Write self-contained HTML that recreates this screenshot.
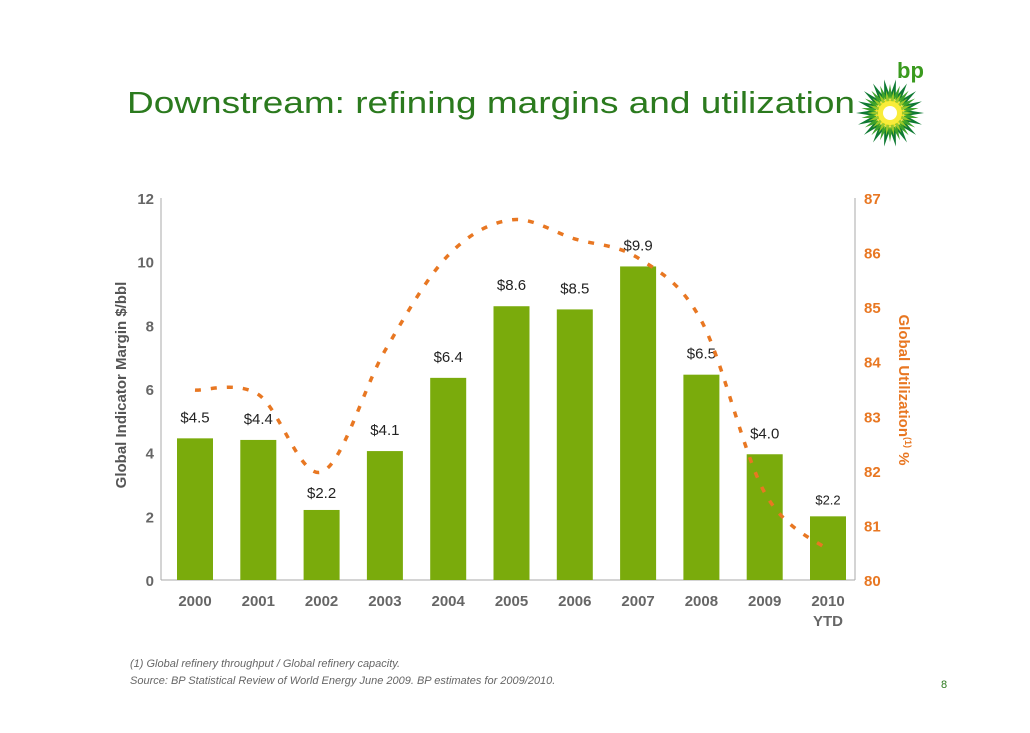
<!DOCTYPE html>
<html><head><meta charset="utf-8"><style>
body{margin:0;background:#fff;width:1030px;height:728px;overflow:hidden;font-family:"Liberation Sans",sans-serif}
</style></head><body>
<svg width="1030" height="728" id="svg">
<text x="127" y="113" font-size="31" fill="#2b7a1e" textLength="728" lengthAdjust="spacingAndGlyphs">Downstream: refining margins and utilization</text>
<g id="logo">
<text x="897" y="78" font-size="22" font-weight="bold" fill="#3a9a1e">bp</text>
</g>
<g id="plot"></g>
<text x="0" y="0" transform="translate(126,385) rotate(-90)" text-anchor="middle" font-size="15" font-weight="bold" fill="#555">Global Indicator Margin $/bbl</text>
<text x="0" y="0" transform="translate(899,390) rotate(90)" text-anchor="middle" font-size="15" font-weight="bold" fill="#e87722">Global Utilization<tspan font-size="9" dy="-6">(1)</tspan><tspan dy="6"> %</tspan></text>
<text x="130" y="667" font-size="11" font-style="italic" fill="#666">(1) Global refinery throughput / Global refinery capacity.</text>
<text x="130" y="684" font-size="11" font-style="italic" fill="#666">Source:  BP Statistical Review of World Energy June 2009. BP estimates for 2009/2010.</text>
<text x="941" y="688" font-size="11" fill="#2b7a1e">8</text>
</svg>
<script>
const categories=["2000","2001","2002","2003","2004","2005","2006","2007","2008","2009","2010"];
const margins=[4.45,4.4,2.2,4.05,6.35,8.6,8.5,9.85,6.45,3.95,2.0];
const marginLabels=["$4.5","$4.4","$2.2","$4.1","$6.4","$8.6","$8.5","$9.9","$6.5","$4.0","$2.2"];
const utilization=[83.48,83.4,81.98,84.2,85.95,86.6,86.25,85.9,84.75,81.6,80.55];
const leftTicks=[0,2,4,6,8,10,12];
const rightTicks=[80,81,82,83,84,85,86,87];
const NS="http://www.w3.org/2000/svg";
const g=document.getElementById('plot');
const x0=163,x1=855,y0=580,y1=198;
const step=63.3;
function xS(i){return 195+i*step;}
function yL(v){return y0-(v-0)/12*(y0-y1);}
function yR(v){return y0-(v-80)/7*(y0-y1);}
function mk(t,a,txt){const e=document.createElementNS(NS,t);for(const k in a)e.setAttribute(k,a[k]);if(txt!=null)e.textContent=txt;g.appendChild(e);return e;}
let e;
e=mk('line',{x1:x0-2,y1:y1,x2:x0-2,y2:y0,stroke:'#aaa','stroke-width':1});

e=mk('line',{x1:x1,y1:y1,x2:x1,y2:y0,stroke:'#aaa','stroke-width':1});

e=mk('line',{x1:x0-2,y1:y0,x2:x1,y2:y0,stroke:'#aaa','stroke-width':1});

leftTicks.forEach(v=>{e=mk('text',{x:154,y:yL(v)+6,'text-anchor':'end','font-size':15,'font-weight':'bold',fill:'#666'},String(v));
});
rightTicks.forEach(v=>{e=mk('text',{x:864,y:yR(v)+6,'font-size':15,'font-weight':'bold',fill:'#e87722'},String(v));
});
categories.forEach((c,i)=>{
 e=mk('rect',{x:xS(i)-18,y:yL(margins[i]),width:36,height:y0-yL(margins[i]),fill:'#7aab0c'});
 
 e=mk('text',{x:xS(i),y:606,'text-anchor':'middle','font-size':15,'font-weight':'bold',fill:'#666'},c);
 
 e=mk('text',{x:xS(i),y:yL(margins[i])-(i==2||i==10?12:16),'text-anchor':'middle','font-size':i==10?13:15,fill:'#222'},marginLabels[i]);
 
});
e=mk('text',{x:xS(10),y:626,'text-anchor':'middle','font-size':15,'font-weight':'bold',fill:'#666'},'YTD');

const pts=utilization.map((v,i)=>[xS(i),yR(v)]);
let d='M'+pts[0][0]+','+pts[0][1];
for(let i=0;i<pts.length-1;i++){const p0=pts[Math.max(0,i-1)],p1=pts[i],p2=pts[i+1],p3=pts[Math.min(pts.length-1,i+2)];
 d+=' C'+(p1[0]+(p2[0]-p0[0])/6)+','+(p1[1]+(p2[1]-p0[1])/6)+' '+(p2[0]-(p3[0]-p1[0])/6)+','+(p2[1]-(p3[1]-p1[1])/6)+' '+p2[0]+','+p2[1];}
e=mk('path',{d:d,fill:'none',stroke:'#e87722','stroke-width':3.5,'stroke-dasharray':'6 10'});

const lg=document.getElementById('logo');
const cx=890,cy=113;
for(let r=0;r<4;r++){const n=18,R=[34,29,23,17][r],col=['#0f7a33','#3da22a','#9cc92a','#f5e21a'][r];
 for(let k=0;k<n;k++){const a=(k+(r%2)*0.5)/n*2*Math.PI,a1=a-0.17,a2=a+0.17,ri=R*0.5;
  const p=document.createElementNS(NS,'polygon');
  p.setAttribute('points',`${cx+ri*Math.cos(a1)},${cy+ri*Math.sin(a1)} ${cx+R*Math.cos(a)},${cy+R*Math.sin(a)} ${cx+ri*Math.cos(a2)},${cy+ri*Math.sin(a2)}`);
  p.setAttribute('fill',col);lg.appendChild(p);}}
const c1=document.createElementNS(NS,'circle');c1.setAttribute('cx',cx);c1.setAttribute('cy',cy);c1.setAttribute('r',12);c1.setAttribute('fill','#f8ec3a');lg.appendChild(c1);
const c2=document.createElementNS(NS,'circle');c2.setAttribute('cx',cx);c2.setAttribute('cy',cy);c2.setAttribute('r',7);c2.setAttribute('fill','#fff');lg.appendChild(c2);
</script>
</body></html>
